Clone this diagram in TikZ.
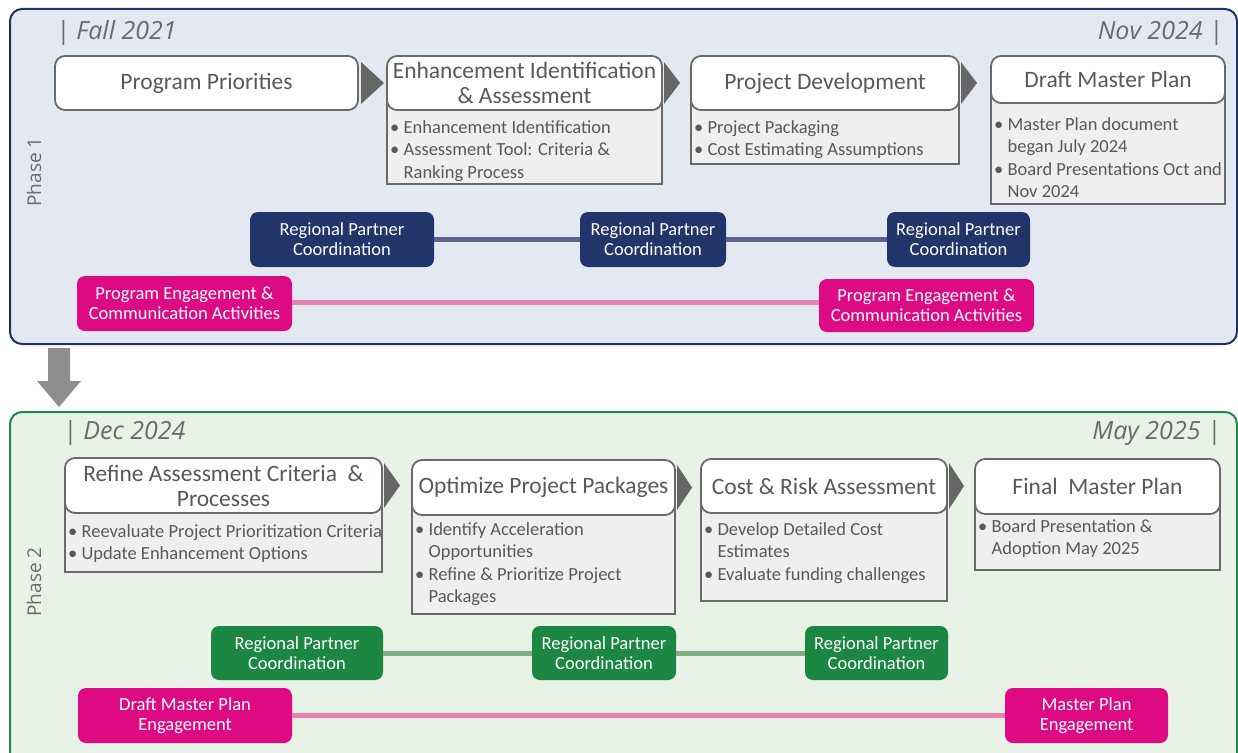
\documentclass[tikz,border=0pt]{standalone}
\usepackage{fontspec}
\setmainfont{Carlito}
\newfontfamily\lblfont{Open Sans}
\usetikzlibrary{calc}
\definecolor{ponefill}{HTML}{E4E9F1}
\definecolor{poneline}{HTML}{1F3264}
\definecolor{ptwofill}{HTML}{E9F2E6}
\definecolor{ptwoline}{HTML}{1E8A44}
\definecolor{navybox}{HTML}{22356B}
\definecolor{navylink}{HTML}{5C6590}
\definecolor{grnbox}{HTML}{1C8643}
\definecolor{grnlink}{HTML}{80AE80}
\definecolor{pinkbox}{HTML}{DE0A84}
\definecolor{pinklink}{HTML}{E582B2}
\definecolor{boxline}{HTML}{6A6A6A}
\definecolor{txtgray}{HTML}{595959}
\definecolor{lblgray}{HTML}{6A6A6A}
\definecolor{subfill}{HTML}{EFEFEF}
\definecolor{arrgray}{HTML}{8E8E90}
\definecolor{tipgray}{HTML}{666666}
\begin{document}
\begin{tikzpicture}[x=1pt,y=-1pt,
  panelone/.style={draw=poneline, line width=2pt, fill=ponefill, rounded corners=12pt},
  paneltwo/.style={draw=ptwoline, line width=2pt, fill=ptwofill, rounded corners=12pt},
  hdr/.style={draw=boxline, line width=1.8pt, fill=white, rounded corners=10pt, text=txtgray,
    font=\fontsize{23.5}{25}\selectfont, align=center, inner sep=0pt},
  subbox/.style={draw=boxline, line width=1.8pt, fill=subfill},
  subtxt/.style={text=txtgray, font=\fontsize{18.5}{22.5}\selectfont, align=left, anchor=north west, inner sep=0pt},
  tip/.style={fill=tipgray},
  pill/.style={rounded corners=8pt, text=white, font=\fontsize{18.5}{20}\selectfont, align=center, inner sep=0pt, minimum height=55pt},
  navypill/.style={pill, fill=navybox},
  grnpill/.style={pill, fill=grnbox},
  pinkpill/.style={pill, fill=pinkbox},
  navyconn/.style={draw=navylink, line width=5pt},
  grnconn/.style={draw=grnlink, line width=5pt},
  pinkconn/.style={draw=pinklink, line width=5pt},
  datelbl/.style={text=lblgray, font=\lblfont\fontsize{25}{28}\selectfont\itshape, inner sep=0pt},
  phaselbl/.style={text=lblgray, font=\lblfont\fontsize{19}{22}\selectfont, rotate=90, inner sep=0pt}
]
\fill[white] (0,0) rectangle (1238,752);
\useasboundingbox (0,0) rectangle (1238,752);

% panels
\draw[panelone] (10,9) rectangle (1237,344);
\draw[paneltwo] (10,412) rectangle (1237,775);

% down arrow
\fill[arrgray] (48,348) -- (70,348) -- (70,381) -- (81,381) -- (59,407) -- (37,381) -- (48,381) -- cycle;

% labels
\node[datelbl, anchor=west] (d1) at (56,33) {| Fall 2021};
\node[datelbl, anchor=east] (d2) at (1223,33) {Nov 2024 |};
\node[datelbl, anchor=west] (d3) at (63,433) {| Dec 2024};
\node[datelbl, anchor=east] (d4) at (1221,433) {May 2025 |};
\node[phaselbl] (ph1) at (34,172) {Phase 1};
\node[phaselbl] (ph2) at (34,582) {Phase 2};

% ---------- Phase 1 steps ----------
\draw[subbox] (387,100) rectangle (662,184);
\draw[subbox] (691,100) rectangle (959,164);
\draw[subbox] (991,93) rectangle (1225,204);

\node[hdr, minimum width=303pt, minimum height=54pt] (h1) at (206.5,83) {Program Priorities};
\node[hdr, minimum width=275pt, minimum height=54pt] (h2) at (524.5,83) {Enhancement Identification\\\& Assessment};
\node[hdr, minimum width=268pt, minimum height=54pt] (h3) at (825,83) {Project Development};
\node[hdr, minimum width=234pt, minimum height=47pt] (h4) at (1108,79.5) {Draft Master Plan};

\fill[tip] (361,62) -- (384,83) -- (361,104) -- cycle;
\fill[tip] (664,62) -- (680,83) -- (664,104) -- cycle;
\fill[tip] (961,62) -- (977,83) -- (961,104) -- cycle;

\node[subtxt] (s2) at (390,120) {• Enhancement Identification\\• Assessment Tool: Criteria \&\\\phantom{• }Ranking Process};
\node[subtxt] (s3) at (694,120) {• Project Packaging\\• Cost Estimating Assumptions};
\node[subtxt] (s4) at (994,117) {• Master Plan document\\\phantom{• }began July 2024\\• Board Presentations Oct and\\\phantom{• }Nov 2024};

% regional partner / engagement phase 1
\node[navypill, minimum width=184pt] (ra) at (342,239.5) {Regional Partner\\Coordination};
\node[navypill, minimum width=146pt] (rb) at (653,239.5) {Regional Partner\\Coordination};
\node[navypill, minimum width=143pt] (rc) at (958.5,239.5) {Regional Partner\\Coordination};
\path[navyconn] (ra.east) -- (rb.west);
\path[navyconn] (rb.east) -- (rc.west);

\node[pinkpill, minimum width=215pt] (pa) at (184.5,303.5) {Program Engagement \&\\Communication Activities};
\node[pinkpill, minimum width=215pt, minimum height=53pt] (pb) at (926.5,305.5) {Program Engagement \&\\Communication Activities};
\path[pinkconn] (pa.east |- 0,302) -- (pb.west |- 0,302);

% ---------- Phase 2 steps ----------
\draw[subbox] (65,503) rectangle (382,572);
\draw[subbox] (412,505) rectangle (675,614);
\draw[subbox] (701,503) rectangle (947,601);
\draw[subbox] (975,504) rectangle (1220,570);

\node[hdr, minimum width=317pt, minimum height=55pt] (h5) at (223.5,485.5) {Refine Assessment Criteria~~\&\\Processes};
\node[hdr, minimum width=263pt, minimum height=55pt] (h6) at (543.5,487.5) {Optimize Project Packages};
\node[hdr, minimum width=246pt, minimum height=54pt] (h7) at (824,486) {Cost \& Risk Assessment};
\node[hdr, minimum width=245pt, minimum height=55pt] (h8) at (1097.5,486.5) {Final~~Master Plan};

\fill[tip] (384,463) -- (400,485.5) -- (384,508) -- cycle;
\fill[tip] (677,465) -- (692,487.5) -- (677,510) -- cycle;
\fill[tip] (949,463) -- (964,486) -- (949,509) -- cycle;

\node[subtxt] (s5) at (68,524) {• Reevaluate Project Prioritization Criteria\\• Update Enhancement Options};
\node[subtxt] (s6) at (415,522) {• Identify Acceleration\\\phantom{• }Opportunities\\• Refine \& Prioritize Project\\\phantom{• }Packages};
\node[subtxt] (s7) at (704,522) {• Develop Detailed Cost\\\phantom{• }Estimates\\• Evaluate funding challenges};
\node[subtxt] (s8) at (978,519) {• Board Presentation \&\\\phantom{• }Adoption May 2025};

\node[grnpill, minimum width=172pt, minimum height=54pt] (ga) at (297,653) {Regional Partner\\Coordination};
\node[grnpill, minimum width=144pt, minimum height=54pt] (gb) at (604,653) {Regional Partner\\Coordination};
\node[grnpill, minimum width=143pt, minimum height=54pt] (gc) at (876.5,653) {Regional Partner\\Coordination};
\path[grnconn] (ga.east) -- (gb.west);
\path[grnconn] (gb.east) -- (gc.west);

\node[pinkpill, minimum width=214pt] (pc) at (185,715.5) {Draft Master Plan\\Engagement};
\node[pinkpill, minimum width=163pt] (pd) at (1086.5,715.5) {Master Plan\\Engagement};
\path[pinkconn] (pc.east) -- (pd.west);
\end{tikzpicture}
\end{document}
